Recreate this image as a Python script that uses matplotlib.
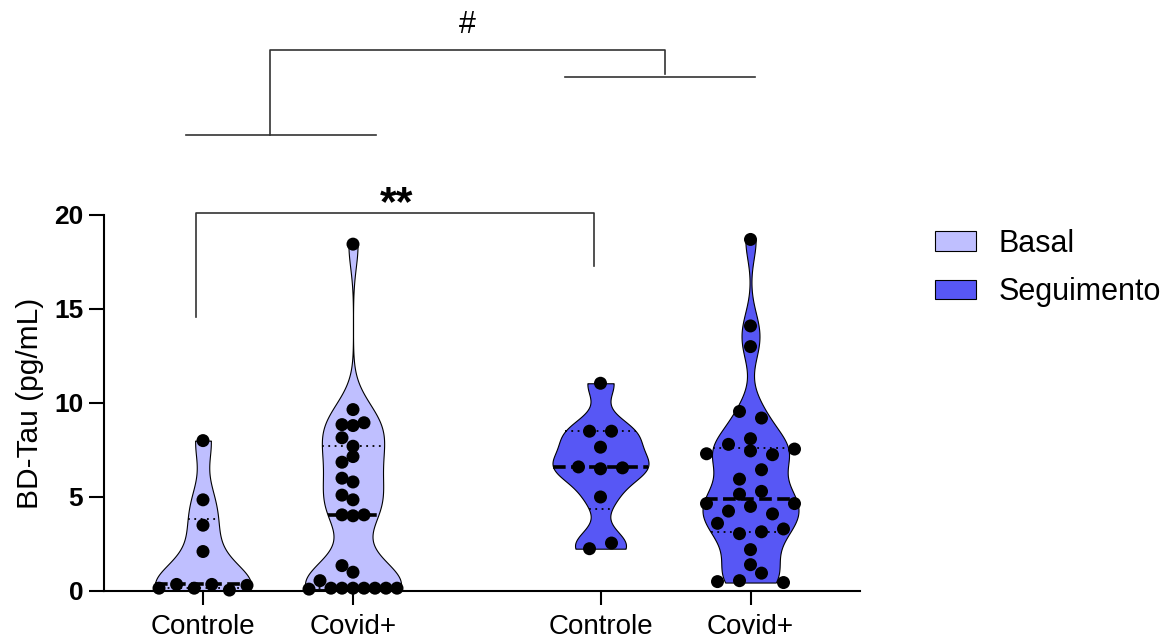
import numpy as np
import matplotlib
matplotlib.use("Agg")
import matplotlib.pyplot as plt
from matplotlib.patches import Patch

plt.rcParams['font.family'] = ['Liberation Sans', 'DejaVu Sans']

# ---------------- data ----------------
categories = ["Controle", "Covid+", "Controle", "Covid+"]
series_names = ["Basal", "Seguimento"]
series_of_group = [0, 0, 1, 1]
yticks = [0, 5, 10, 15, 20]
ylabel = "BD-Tau (pg/mL)"

controle_basal = [8.0, 4.85, 3.5, 2.1, 0.15, 0.35, 0.15, 0.35, 0.05, 0.3]
covid_basal = [18.45, 9.65, 8.85, 8.8, 8.95, 8.15, 7.7, 6.85, 7.15, 6.0, 5.8,
               5.1, 4.85, 4.05, 4.0, 4.05, 1.35, 1.0,
               0.1, 0.55, 0.15, 0.15, 0.15, 0.15, 0.15, 0.15, 0.15]
controle_seg = [11.05, 8.5, 8.5, 7.65, 6.6, 6.5, 6.55, 5.0, 2.25, 2.55]
covid_seg = [18.7, 14.1, 13.0, 9.55, 9.2, 8.1, 7.3, 7.8, 7.45, 7.25, 7.55,
             5.95, 6.45, 5.15, 5.3, 4.65, 4.25, 4.5, 4.1, 4.65, 3.6, 3.05,
             3.15, 3.3, 2.2, 1.4, 0.5, 0.55, 0.95, 0.45]
all_groups = [controle_basal, covid_basal, controle_seg, covid_seg]

# ---------------- style / layout ----------------
positions = [0, 1, 2.65, 3.65]
bandwidths = [1.15, 1.25, 0.8, 1.05]
colors = ["#BFBFFF", "#5757F5"]
half_width = 0.32
W, H = 1171, 642
fig = plt.figure(figsize=(W / 100, H / 100), dpi=100)
ax_l, ax_r, ax_b, ax_t = 104, 860, 591, 215
ax = fig.add_axes([ax_l / W, 1 - ax_b / H, (ax_r - ax_l) / W, (ax_b - ax_t) / H])
xlim = (-0.66, 4.38)
ylim = (0, 20)
ax.set_xlim(*xlim)
ax.set_ylim(*ylim)

px_x = (xlim[1] - xlim[0]) / (ax_r - ax_l)
px_y = (ylim[1] - ylim[0]) / (ax_b - ax_t)


def kde(vals, grid, bw):
    v = np.asarray(vals)[:, None]
    return np.exp(-0.5 * ((grid[None, :] - v) / bw) ** 2).sum(axis=0)


def row_scatter(vals, dot_px=13.0, max_px=44.0, max_step=22.0):
    """Group nearby values into rows and spread each row sideways."""
    vals = np.asarray(vals, dtype=float)
    order = np.argsort(vals, kind="stable")
    thr = dot_px * px_y
    rows, cur = [], [order[0]]
    for i in order[1:]:
        if vals[i] - vals[cur[0]] < thr:
            cur.append(i)
        else:
            rows.append(cur)
            cur = [i]
    rows.append(cur)
    maxrow = max(len(r) for r in rows)
    step = max_step if maxrow <= 1 else min(max_step, 2 * max_px / (maxrow - 1))
    offs = np.zeros(len(vals))
    for r in rows:
        r = sorted(r)  # keep entry order left to right
        n = len(r)
        for j, i in enumerate(r):
            if n % 2 == 1 or step >= 16:
                offs[i] = (j - (n - 1) / 2) * step
            else:
                offs[i] = (j - n / 2) * step
    return offs * px_x


for k, vals in enumerate(all_groups):
    x0 = positions[k]
    vals = np.asarray(vals)
    grid = np.linspace(vals.min(), vals.max(), 400)
    d = kde(vals, grid, bandwidths[k])
    w = d / d.max() * half_width
    col = colors[series_of_group[k]]
    ax.fill_betweenx(grid, x0 - w, x0 + w, facecolor=col, edgecolor="black",
                     linewidth=0.8, zorder=1)
    q1, med, q3 = np.percentile(vals, [25, 50, 75], method="weibull")
    for q, ls, lw in [(q1, (0, (1, 2.5)), 1.3), (q3, (0, (1, 2.5)), 1.3),
                      (med, (0, (3.5, 1.5)), 2.6)]:
        wq = np.interp(q, grid, w)
        ax.plot([x0 - wq, x0 + wq], [q, q], color="black", linestyle=ls,
                linewidth=lw, zorder=2)
    offs = row_scatter(vals)
    ax.scatter(x0 + offs, vals, s=(13 * 0.72) ** 2, color="black",
               edgecolors="none", zorder=3, clip_on=False)

# axes styling
for s in ["top", "right"]:
    ax.spines[s].set_visible(False)
for s in ["left", "bottom"]:
    ax.spines[s].set_linewidth(1.5)
ax.set_yticks(yticks)
ax.set_yticklabels([str(t) for t in yticks], fontsize=19, fontweight="bold")
ax.set_xticks(positions)
ax.set_xticklabels(categories, fontsize=20)
ax.tick_params(axis="y", length=11, width=1.5, pad=4)
ax.tick_params(axis="x", length=10, width=1.5, pad=6.5)
ax.set_ylabel(ylabel, fontsize=21.5)
ax.yaxis.set_label_coords(-0.08, 0.5)

# significance brackets
bc = "#333333"
blw = 1.2
ax.plot([-0.047, -0.047, 2.607, 2.607], [14.6, 20.1, 20.1, 17.3], color=bc,
        lw=blw, clip_on=False)
ax.text(1.29, 20.0, "**", ha="center", va="baseline", fontsize=31,
        fontweight="bold")
ax.plot([-0.113, 1.153], [24.26, 24.26], color=bc, lw=blw, clip_on=False)
ax.plot([2.413, 3.68], [27.34, 27.34], color=bc, lw=blw, clip_on=False)
ax.plot([0.447, 0.447, 3.08, 3.08], [24.26, 28.78, 28.78, 27.5], color=bc,
        lw=blw, clip_on=False)
ax.text(1.76, 29.7, "#", ha="center", va="baseline", fontsize=22)

# legend
handles = [Patch(facecolor=colors[i], edgecolor="black", linewidth=0.8,
                 label=series_names[i]) for i in range(2)]
fig.legend(handles=handles, loc="upper left", bbox_to_anchor=(935 / W, 1 - 229 / H),
           frameon=False, fontsize=22, handlelength=1.33, handleheight=0.62,
           handletextpad=0.75, labelspacing=0.6, borderaxespad=0, borderpad=0)

fig.savefig("out.png", dpi=100)
